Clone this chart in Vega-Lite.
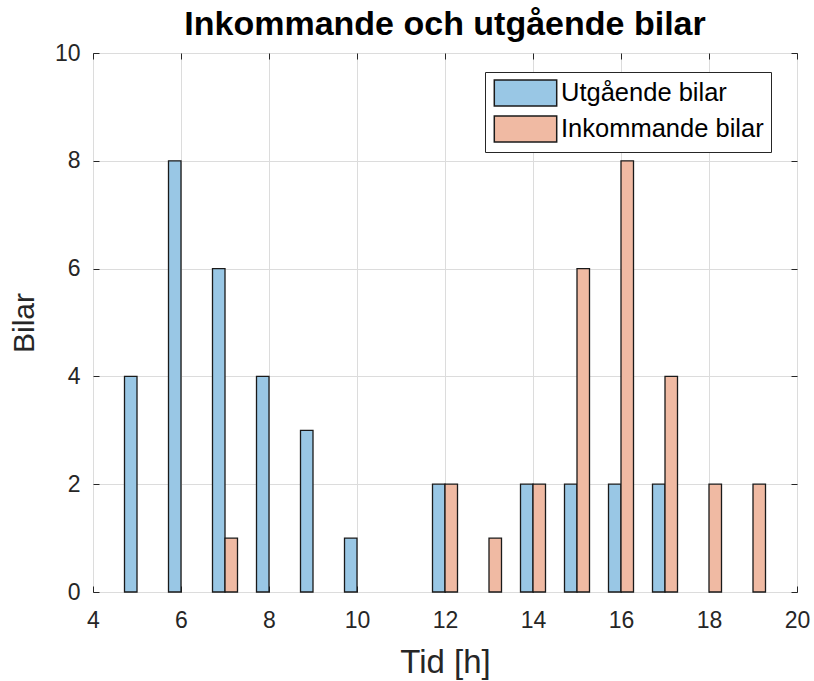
{
  "$schema": "https://vega.github.io/schema/vega-lite/v6.json",
  "width": 704,
  "height": 539,
  "autosize": {"type": "none"},
  "padding": {"left": 93, "top": 53, "right": 17, "bottom": 89},
  "background": "white",
  "title": {
    "text": "Inkommande och utgående bilar",
    "font": "Liberation Sans",
    "fontSize": 34,
    "fontWeight": "bold",
    "color": "#000000",
    "anchor": "middle",
    "baseline": "alphabetic",
    "offset": -27
  },
  "data": {
    "values": [
      {"tid": 5, "serie": "Utgående bilar", "bilar": 4},
      {"tid": 6, "serie": "Utgående bilar", "bilar": 8},
      {"tid": 7, "serie": "Utgående bilar", "bilar": 6},
      {"tid": 8, "serie": "Utgående bilar", "bilar": 4},
      {"tid": 9, "serie": "Utgående bilar", "bilar": 3},
      {"tid": 10, "serie": "Utgående bilar", "bilar": 1},
      {"tid": 12, "serie": "Utgående bilar", "bilar": 2},
      {"tid": 14, "serie": "Utgående bilar", "bilar": 2},
      {"tid": 15, "serie": "Utgående bilar", "bilar": 2},
      {"tid": 16, "serie": "Utgående bilar", "bilar": 2},
      {"tid": 17, "serie": "Utgående bilar", "bilar": 2},
      {"tid": 7, "serie": "Inkommande bilar", "bilar": 1},
      {"tid": 12, "serie": "Inkommande bilar", "bilar": 2},
      {"tid": 13, "serie": "Inkommande bilar", "bilar": 1},
      {"tid": 14, "serie": "Inkommande bilar", "bilar": 2},
      {"tid": 15, "serie": "Inkommande bilar", "bilar": 6},
      {"tid": 16, "serie": "Inkommande bilar", "bilar": 8},
      {"tid": 17, "serie": "Inkommande bilar", "bilar": 4},
      {"tid": 18, "serie": "Inkommande bilar", "bilar": 2},
      {"tid": 19, "serie": "Inkommande bilar", "bilar": 2}
    ]
  },
  "layer": [
    {
      "transform": [{"filter": "datum.serie === 'Utgående bilar'"}],
      "mark": {"type": "bar", "width": 12.5, "xOffset": -6.25, "stroke": "#1a1a1a", "strokeWidth": 1.3},
      "encoding": {
        "x": {
          "field": "tid", "type": "quantitative",
          "scale": {"domain": [4, 20], "nice": false, "zero": false, "padding": 0},
          "axis": {
            "title": "Tid [h]",
            "titleFontSize": 33,
            "values": [4, 6, 8, 10, 12, 14, 16, 18, 20],
            "grid": true,
            "domain": false,
            "ticks": true,
            "tickSize": -6,
            "labelFlush": false,
            "labelPadding": 23,
            "titleBaseline": "alphabetic",
            "titleY": 80
          }
        },
        "y": {
          "field": "bilar", "type": "quantitative",
          "scale": {"domain": [0, 10], "nice": false, "padding": 0},
          "axis": {
            "title": "Bilar",
            "titleFontSize": 30,
            "values": [0, 2, 4, 6, 8, 10],
            "grid": true,
            "domain": false,
            "ticks": true,
            "tickSize": -6,
            "labelFlush": false,
            "labelPadding": 19,
            "titleX": -60,
            "titleBaseline": "alphabetic"
          }
        },
        "color": {
          "field": "serie", "type": "nominal",
          "scale": {"domain": ["Utgående bilar", "Inkommande bilar"], "range": ["#99c7e5", "#f0baa3"]},
          "legend": {"title": null}
        }
      }
    },
    {
      "transform": [{"filter": "datum.serie === 'Inkommande bilar'"}],
      "mark": {"type": "bar", "width": 12.5, "xOffset": 6.25, "stroke": "#1a1a1a", "strokeWidth": 1.3},
      "encoding": {
        "x": {
          "field": "tid", "type": "quantitative",
          "scale": {"domain": [4, 20], "nice": false, "zero": false, "padding": 0},
          "axis": {
            "orient": "top",
            "title": null,
            "values": [4, 6, 8, 10, 12, 14, 16, 18, 20],
            "labels": false,
            "grid": false,
            "domain": false,
            "tickSize": -6
          }
        },
        "y": {
          "field": "bilar", "type": "quantitative",
          "scale": {"domain": [0, 10], "nice": false, "padding": 0},
          "axis": {
            "orient": "right",
            "title": null,
            "values": [0, 2, 4, 6, 8, 10],
            "labels": false,
            "grid": false,
            "domain": false,
            "tickSize": -6
          }
        },
        "color": {
          "field": "serie", "type": "nominal",
          "scale": {"domain": ["Utgående bilar", "Inkommande bilar"], "range": ["#99c7e5", "#f0baa3"]},
          "legend": {"title": null}
        }
      }
    }
  ],
  "resolve": {"axis": {"x": "independent", "y": "independent"}},
  "config": {
    "font": "Liberation Sans",
    "view": {"stroke": "#262626", "strokeWidth": 1},
    "axis": {
      "labelFont": "Liberation Sans",
      "labelFontSize": 23,
      "labelColor": "#262626",
      "titleFont": "Liberation Sans",
      "titleFontSize": 31,
      "titleFontWeight": "normal",
      "titleColor": "#262626",
      "gridColor": "#dcdcdc",
      "gridWidth": 1,
      "tickColor": "#262626",
      "tickWidth": 1
    },
    "legend": {
      "orient": "none",
      "legendX": 392,
      "legendY": 19,
      "padding": 7,
      "fillColor": "white",
      "strokeColor": "#262626",
      "cornerRadius": 0,
      "symbolType": "M-2.4,-1H2.4V1H-2.4Z",
      "symbolSize": 676,
      "symbolStrokeColor": "#1a1a1a",
      "symbolStrokeWidth": 1.5,
      "symbolOpacity": 1,
      "symbolOffset": 19.5,
      "labelOffset": 21.5,
      "labelFont": "Liberation Sans",
      "labelFontSize": 25.5,
      "labelColor": "#000000",
      "labelLimit": 400,
      "rowPadding": 4
    }
  }
}
